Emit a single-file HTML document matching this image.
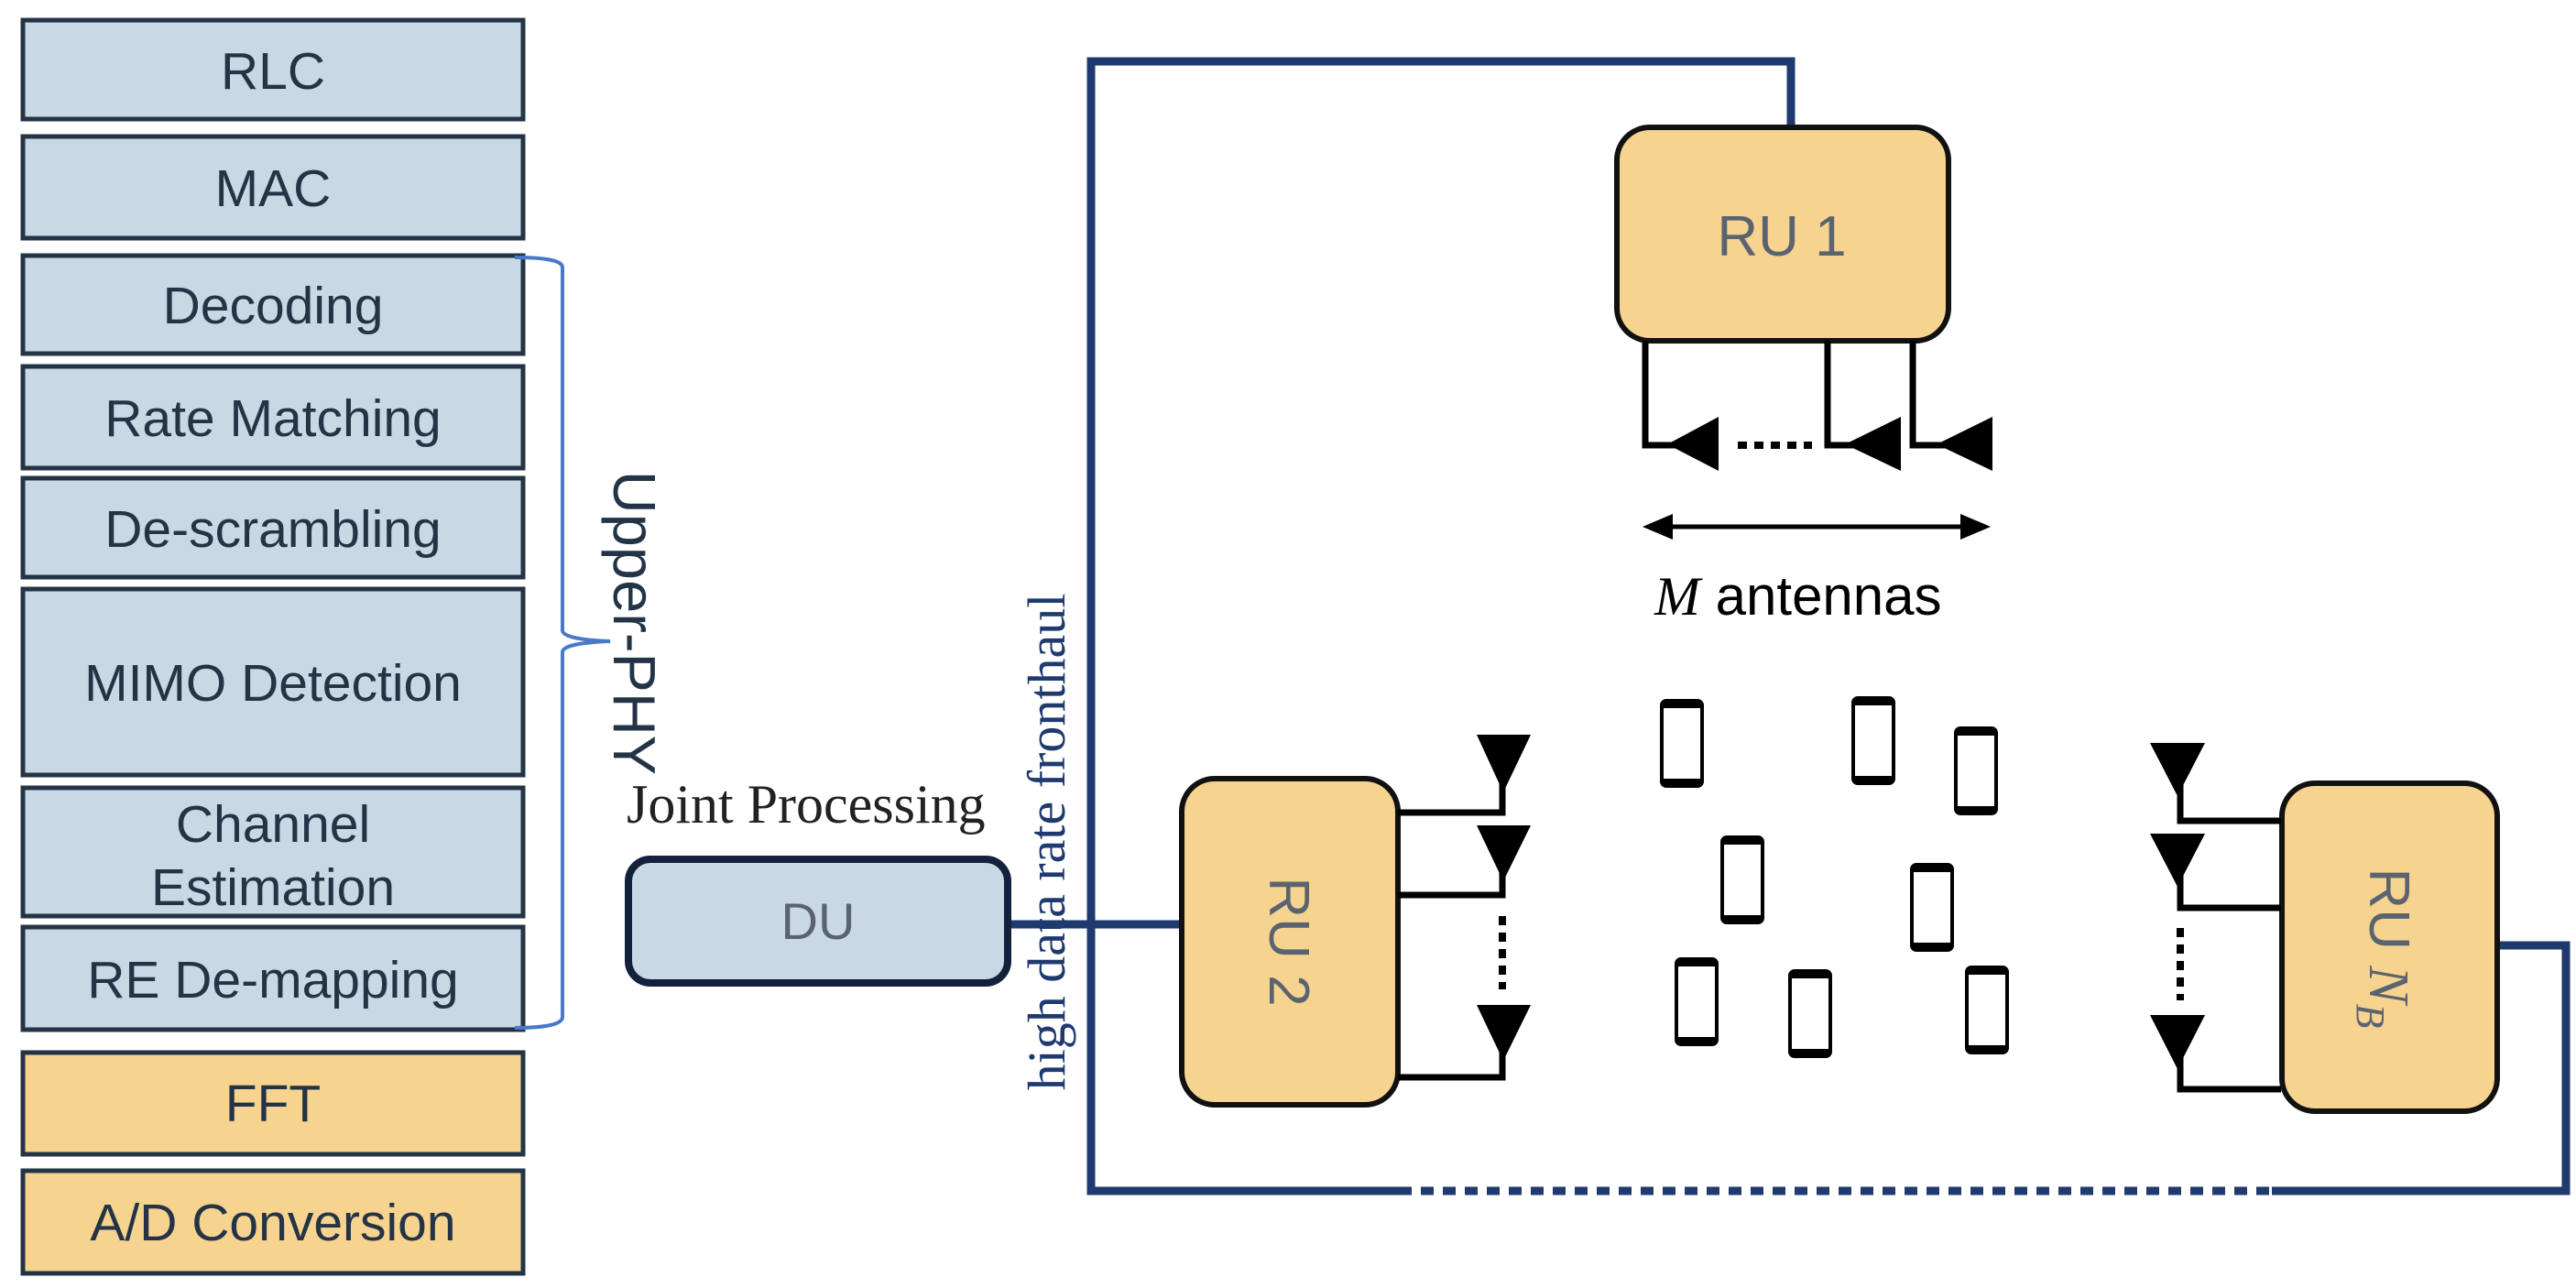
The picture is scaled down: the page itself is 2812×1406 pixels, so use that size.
<!DOCTYPE html>
<html><head><meta charset="utf-8"><style>
html,body{margin:0;padding:0;background:#fff;}
svg{display:block;}
</style></head><body>
<svg width="2812" height="1406" viewBox="0 0 2812 1406" xmlns="http://www.w3.org/2000/svg">
<g stroke="#243447" stroke-width="5" fill="#c8d8e4">
<rect x="25" y="22" width="546" height="108"/>
<rect x="25" y="149" width="546" height="111"/>
<rect x="25" y="279" width="546" height="107"/>
<rect x="25" y="400" width="546" height="111"/>
<rect x="25" y="522" width="546" height="108"/>
<rect x="25" y="643" width="546" height="203"/>
<rect x="25" y="860" width="546" height="140"/>
<rect x="25" y="1012" width="546" height="112"/>
<rect x="25" y="1149" width="546" height="111" fill="#f6d38e"/>
<rect x="25" y="1278" width="546" height="112" fill="#f6d38e"/>
</g>
<g font-family="Liberation Sans, sans-serif" font-size="57" fill="#243447" text-anchor="middle">
<text x="298" y="97">RLC</text>
<text x="298" y="225">MAC</text>
<text x="298" y="353">Decoding</text>
<text x="298" y="476">Rate Matching</text>
<text x="298" y="597">De-scrambling</text>
<text x="298" y="765">MIMO Detection</text>
<text x="298" y="919">Channel</text>
<text x="298" y="988">Estimation</text>
<text x="298" y="1089">RE De-mapping</text>
<text x="298" y="1224">FFT</text>
<text x="298" y="1354">A/D Conversion</text>
</g>
<path d="M562 281 Q614 281 614 292 L614 688 Q614 698 666 700 Q614 702 614 712 L614 1110 Q614 1122 562 1122" fill="none" stroke="#4a78c8" stroke-width="4"/>
<text transform="translate(670,680) rotate(90)" font-family="Liberation Sans, sans-serif" font-size="65" fill="#243447" text-anchor="middle">Upper-PHY</text>
<text x="684" y="898" font-family="Liberation Serif, serif" font-size="60" fill="#222">Joint Processing</text>
<text transform="translate(1162,919) rotate(-90)" font-family="Liberation Serif, serif" font-size="58" fill="#1f3a6e" text-anchor="middle">high data rate fronthaul</text>
<g fill="none" stroke="#1f3a6e" stroke-width="9">
<path d="M1955 140 L1955 67 L1191 67 L1191 1300 L1527 1300"/>
<path d="M1527 1300 L2480 1300" stroke-dasharray="14 10"/>
<path d="M2480 1300 L2801 1300 L2801 1032 L2727 1032"/>
<path d="M1102 1009 L1288 1009"/>
</g>
<rect x="686" y="938" width="414" height="135" rx="24" fill="#c8d8e4" stroke="#14213d" stroke-width="8"/>
<text x="893" y="1025" font-family="Liberation Sans, sans-serif" font-size="56" fill="#5a6470" text-anchor="middle">DU</text>
<g fill="#f6d38e" stroke="#111" stroke-width="6">
<rect x="1765" y="139" width="362" height="233" rx="36"/>
<rect x="1290" y="850" width="236" height="356" rx="36"/>
<rect x="2491" y="855" width="235" height="358" rx="36"/>
</g>
<g font-family="Liberation Sans, sans-serif" font-size="62" fill="#5a6470" text-anchor="middle">
<text x="1945" y="279">RU 1</text>
<text transform="translate(1386,1028) rotate(90)">RU 2</text>
<text transform="translate(2587,1035) rotate(90)">RU <tspan font-family="Liberation Serif, serif" font-style="italic">N</tspan><tspan font-family="Liberation Serif, serif" font-style="italic" font-size="44" dy="14">B</tspan></text>
</g>
<g fill="none" stroke="#000" stroke-width="7">
<path d="M1796 372 L1796 486 L1830 486"/>
<path d="M1995 372 L1995 486 L2024 486"/>
<path d="M2088 372 L2088 486 L2124 486"/>
<path d="M1526 887 L1640 887 L1640 850"/>
<path d="M1526 977 L1640 977 L1640 945"/>
<path d="M1526 1176 L1640 1176 L1640 1140"/>
<path d="M2490 896 L2380 896 L2380 855"/>
<path d="M2490 991 L2380 991 L2380 950"/>
<path d="M2490 1189 L2380 1189 L2380 1150"/>
</g>
<g fill="none" stroke="#000" stroke-width="8" stroke-dasharray="10 8">
<path d="M1897 486 L1978 486"/>
<path d="M1640 1000 L1640 1080"/>
<path d="M2380 1013 L2380 1092"/>
</g>
<g fill="#000">
<polygon points="1820,485 1876,455 1876,514"/>
<polygon points="2014,485 2075,455 2075,514"/>
<polygon points="2114,485 2175,455 2175,514"/>
<polygon points="1612,802 1671,802 1641,865"/>
<polygon points="1612,901 1671,901 1641,962"/>
<polygon points="1612,1097 1671,1097 1641,1158"/>
<polygon points="2347,811 2407,811 2377,869"/>
<polygon points="2347,910 2407,910 2377,968"/>
<polygon points="2347,1108 2407,1108 2377,1167"/>
</g>
<path d="M1810 575 L2156 575" stroke="#000" stroke-width="5"/>
<polygon points="1793,575 1826,561 1826,589" fill="#000"/>
<polygon points="2173,575 2140,561 2140,589" fill="#000"/>
<text x="1806" y="671" font-size="60" fill="#000" font-family="Liberation Sans, sans-serif"><tspan font-family="Liberation Serif, serif" font-style="italic">M</tspan> antennas</text>
<g fill="#fff" stroke="#000" stroke-width="4">
<rect x="1814" y="765" width="44" height="93" rx="5"/>
<rect x="2023" y="762" width="44" height="93" rx="5"/>
<rect x="2135" y="795" width="44" height="93" rx="5"/>
<rect x="1880" y="914" width="44" height="93" rx="5"/>
<rect x="2087" y="944" width="44" height="93" rx="5"/>
<rect x="1830" y="1047" width="44" height="93" rx="5"/>
<rect x="1954" y="1060" width="44" height="93" rx="5"/>
<rect x="2147" y="1056" width="44" height="93" rx="5"/>
</g>
<g stroke="#000" stroke-width="6">
<path d="M1814 770 h44 M1814 853 h44 M2023 767 h44 M2023 850 h44 M2135 800 h44 M2135 883 h44 M1880 919 h44 M1880 1002 h44 M2087 949 h44 M2087 1032 h44 M1830 1052 h44 M1830 1135 h44 M1954 1065 h44 M1954 1148 h44 M2147 1061 h44 M2147 1144 h44"/>
</g>
</svg>
</body></html>
